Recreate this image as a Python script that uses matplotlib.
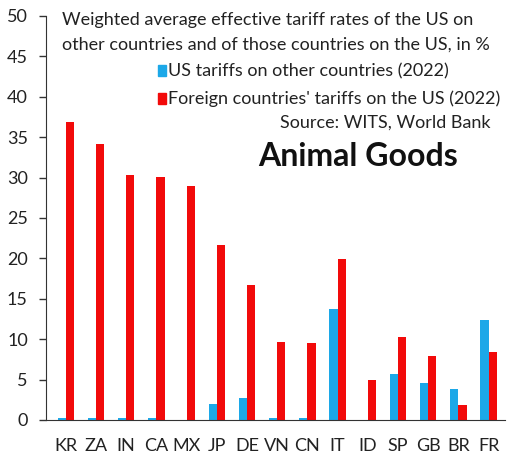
import matplotlib
matplotlib.use("Agg")
import matplotlib.pyplot as plt
import numpy as np

plt.rcParams['font.family'] = ['Lato', 'DejaVu Sans']

countries = ["KR", "ZA", "IN", "CA", "MX", "JP", "DE", "VN", "CN", "IT", "ID", "SP", "GB", "BR", "FR"]
us_tariffs = [0.2, 0.2, 0.2, 0.2, 0.0, 2.0, 2.7, 0.2, 0.2, 13.7, 0.0, 5.7, 4.6, 3.8, 12.4]
foreign_tariffs = [36.9, 34.2, 30.3, 30.1, 29.0, 21.7, 16.7, 9.7, 9.5, 19.9, 4.9, 10.3, 7.9, 1.8, 8.4]
y_ticks = [0, 5, 10, 15, 20, 25, 30, 35, 40, 45, 50]

blue = "#1CA8E8"
red = "#F20A0A"
txt = "#222222"

fig = plt.figure(figsize=(5.10, 4.57), dpi=100)
ax = fig.add_axes([0.090, 0.081, 0.900, 0.884])

x = np.arange(len(countries))
w = 0.27
ax.bar(x - w / 2, us_tariffs, width=w, color=blue, zorder=2)
ax.bar(x + w / 2, foreign_tariffs, width=w, color=red, zorder=2)

ax.set_xlim(-0.66, 14.54)
ax.set_ylim(0, 50)
ax.set_yticks(y_ticks)
ax.set_yticklabels([str(t) for t in y_ticks], fontsize=13, color=txt)
ax.set_xticks(x)
ax.set_xticklabels(countries, fontsize=13, color=txt)
ax.tick_params(axis='x', length=0, pad=13)
ax.tick_params(axis='y', length=5, width=1, direction='out', pad=8, color="#333333")
for s in ["top", "right"]:
    ax.spines[s].set_visible(False)
ax.spines["left"].set_color("#333333")
ax.spines["bottom"].set_color("#333333")


def fy(py):
    return 1 - py / 457


# Title lines
fig.text(62 / 510, fy(20), "Weighted average effective tariff rates of the US on",
         fontsize=13, color=txt, va="center", ha="left")
fig.text(62 / 510, fy(45), "other countries and of those countries on the US, in %",
         fontsize=13, color=txt, va="center", ha="left")

# Legend entries drawn as square markers + text
for yy, col, lab in [(71, blue, "US tariffs on other countries (2022)"),
                     (99, red, "Foreign countries' tariffs on the US (2022)")]:
    fig.patches.append(plt.Rectangle((158 / 510, fy(yy + 5)), 8 / 510, 11 / 457,
                                     transform=fig.transFigure, color=col, figure=fig))
    fig.text(168 / 510, fy(yy), lab, fontsize=13, color=txt, va="center", ha="left")

fig.text(491 / 510, fy(123), "Source: WITS, World Bank", fontsize=13, color=txt,
         va="center", ha="right")
fig.text(358 / 510, fy(157), "Animal Goods", fontsize=23, fontweight="bold",
         color="#111111", va="center", ha="center")

fig.savefig("out.png", dpi=100, facecolor="white")
